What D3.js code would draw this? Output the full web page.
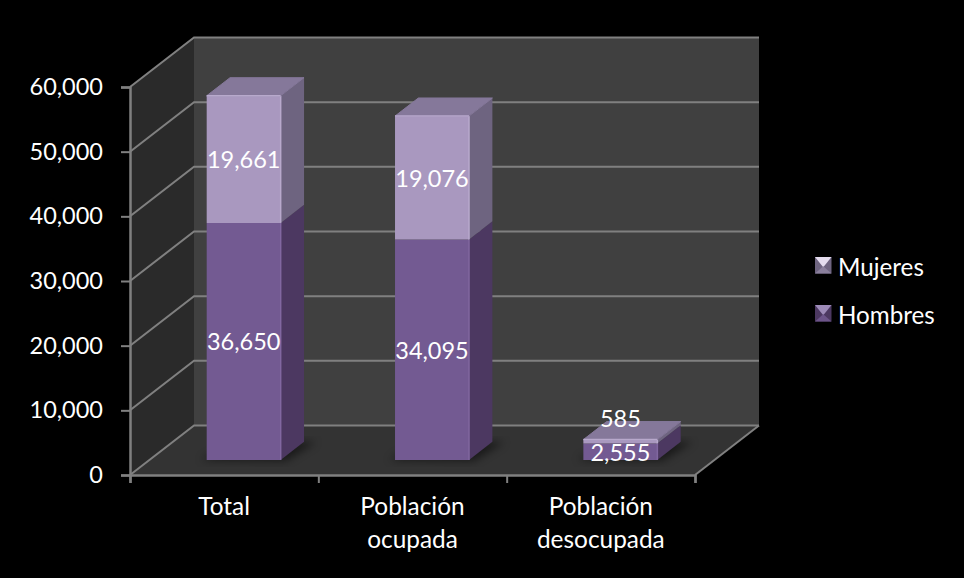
<!DOCTYPE html>
<html>
<head>
<meta charset="utf-8">
<script src="https://d3js.org/d3.v7.min.js"></script>
<style>
  html, body { margin: 0; padding: 0; background: #000; overflow: hidden; }
  text { font-family: Lato, "Open Sans", sans-serif; fill: #fff; }
</style>
</head>
<body>
<div id="chart"></div>
<script>
// values
var categories = ["Total", "Población ocupada", "Población desocupada"];
var hombres = [36650, 34095, 2555];
var mujeres = [19661, 19076, 585];
var yTicks = [0, 10000, 20000, 30000, 40000, 50000, 60000];
var legendNames = ["Mujeres", "Hombres"];

var width = 964, height = 578;
var fontSize = 23.5, labelSize = 24.4;
var gridColor = "#808080";

// 3d box: depth goes up and to the right
var depthX = 64, depthY = 49.5;
var barWidth = 74, barZ0 = 0.305, barZ1 = 0.67;

var svg = d3.select("#chart").append("svg")
  .attr("width", width)
  .attr("height", height);

var x = d3.scaleBand().domain(categories).range([130, 695]);
var y = d3.scaleLinear().domain([0, 60000]).range([475, 87]);
// only for the ticks between the categories
var xEdges = d3.scaleLinear().domain([0, categories.length]).range([130, 695]);

function px(xv, z) { return xv + z * depthX; }
function py(v, z) { return y(v) - z * depthY; }
function pt(xv, v, z) { return [px(xv, z), py(v, z)]; }
function poly(points) { return points.map(function(p) { return p.join(","); }).join(" "); }

var defs = svg.append("defs");
defs.append("filter").attr("id", "blur")
  .attr("x", "-30%").attr("y", "-30%").attr("width", "160%").attr("height", "160%")
  .append("feGaussianBlur").attr("stdDeviation", 4);

// walls and floor
var left = x.range()[0], right = x.range()[1];
svg.append("polygon").attr("fill", "#404040")
  .attr("points", poly([pt(left, 60000, 1), pt(right, 60000, 1), pt(right, 0, 1), pt(left, 0, 1)]));
svg.append("polygon").attr("fill", "#2a2a2a")
  .attr("points", poly([pt(left, 60000, 0), pt(left, 60000, 1), pt(left, 0, 1), pt(left, 0, 0)]));
svg.append("polygon").attr("fill", "#333333")
  .attr("points", poly([pt(left, 0, 0), pt(left, 0, 1), pt(right, 0, 1), pt(right, 0, 0)]));

// gridlines
svg.append("g").selectAll("polyline").data(yTicks).join("polyline")
  .attr("fill", "none")
  .attr("stroke", gridColor)
  .attr("stroke-width", 2)
  .attr("points", function(d) {
    return poly([pt(left, d, 0), pt(left, d, 1), pt(right, d, 1)]);
  });
svg.append("line")
  .attr("x1", px(right, 0)).attr("y1", py(0, 0))
  .attr("x2", px(right, 1)).attr("y2", py(0, 1))
  .attr("stroke", gridColor).attr("stroke-width", 2);

// axes
var yAxis = svg.append("g")
  .attr("transform", "translate(" + left + ",0)")
  .call(d3.axisLeft(y).tickValues(yTicks).tickFormat(d3.format(",")).tickSize(9).tickPadding(18));
var xAxis = svg.append("g")
  .attr("transform", "translate(0," + y(0) + ")")
  .call(d3.axisBottom(xEdges).ticks(categories.length).tickFormat("").tickSize(8));
[yAxis, xAxis].forEach(function(a) {
  a.selectAll("path").attr("stroke", gridColor).attr("stroke-width", 2.5);
  a.selectAll("line").attr("stroke", gridColor).attr("stroke-width", 2);
});
yAxis.selectAll("text").style("font-family", "Lato, sans-serif").attr("font-size", fontSize).attr("fill", "#fff");

// category labels, split on the space
svg.append("g").selectAll("text").data(categories).join("text")
  .attr("text-anchor", "middle")
  .attr("font-size", labelSize)
  .attr("x", function(d) { return x(d) + x.bandwidth() / 2; })
  .attr("y", 515)
  .selectAll("tspan").data(function(d) {
    return d.split(" ").map(function(w) { return { word: w, cat: d }; });
  }).join("tspan")
  .attr("x", function(d) { return x(d.cat) + x.bandwidth() / 2; })
  .attr("dy", function(d, i) { return i ? 33 : 0; })
  .text(function(d) { return d.word; });

// bars
var colors = {
  hombres: { front: "#735a92", side: "#4c3861", top: "#64507f", edge: "#8167a0" },
  mujeres: { front: "#a998bf", side: "#6e6480", top: "#85789a", edge: "#b8a9cc" }
};

function barLeft(c) {
  return x(c) + (x.bandwidth() - barWidth) / 2;
}

function drawBox(g, x0, v0, v1, col, showTop) {
  var x1 = x0 + barWidth;
  g.append("polygon").attr("fill", col.side)
    .attr("points", poly([pt(x1, v1, barZ0), pt(x1, v1, barZ1), pt(x1, v0, barZ1), pt(x1, v0, barZ0)]));
  g.append("polygon").attr("fill", col.front)
    .attr("points", poly([pt(x0, v1, barZ0), pt(x1, v1, barZ0), pt(x1, v0, barZ0), pt(x0, v0, barZ0)]));
  g.append("line").attr("stroke", col.edge).attr("stroke-width", 1.5)
    .attr("x1", px(x1, barZ0)).attr("y1", py(v1, barZ0))
    .attr("x2", px(x1, barZ0)).attr("y2", py(v0, barZ0));
  if (showTop) {
    g.append("polygon").attr("fill", col.top)
      .attr("stroke", col.top).attr("stroke-linejoin", "round")
      .attr("points", poly([pt(x0, v1, barZ0), pt(x0, v1, barZ1), pt(x1, v1, barZ1), pt(x1, v1, barZ0)]));
    g.append("line").attr("stroke", col.edge).attr("stroke-width", 1.5)
      .attr("x1", px(x0, barZ0)).attr("y1", py(v1, barZ0))
      .attr("x2", px(x1, barZ0)).attr("y2", py(v1, barZ0));
  }
}

var bars = svg.append("g");
categories.forEach(function(c, i) {
  var x0 = barLeft(c);
  // floor shadow
  bars.append("polygon").attr("fill", "#000").attr("opacity", 0.5)
    .attr("filter", "url(#blur)")
    .attr("points", poly([pt(x0 - 6, 0, barZ0), pt(x0 + barWidth + 6, 0, barZ0 - 0.02),
      pt(x0 + barWidth + 12, 0, barZ1), pt(x0 + 6, 0, barZ1)]));
  var g = bars.append("g");
  drawBox(g, x0, 0, hombres[i], colors.hombres, false);
  drawBox(g, x0, hombres[i], hombres[i] + mujeres[i], colors.mujeres, true);
});

// value labels, the thin segment gets its label above the bar
svg.append("g").selectAll("text").data(categories).join("text")
  .attr("text-anchor", "middle")
  .attr("dominant-baseline", "central")
  .attr("font-size", fontSize)
  .attr("x", function(d) { return px(barLeft(d) + barWidth / 2, barZ0); })
  .attr("y", function(d, i) { return py(hombres[i] / 2, barZ0); })
  .text(function(d, i) { return d3.format(",")(hombres[i]); });

svg.append("g").selectAll("text").data(categories).join("text")
  .attr("text-anchor", "middle")
  .attr("dominant-baseline", "central")
  .attr("font-size", fontSize)
  .attr("x", function(d) { return px(barLeft(d) + barWidth / 2, barZ0); })
  .attr("y", function(d, i) {
    var mid = py(hombres[i] + mujeres[i] / 2, barZ0);
    return mujeres[i] < 3000 ? mid - 23 : mid;
  })
  .text(function(d, i) { return d3.format(",")(mujeres[i]); });

// legend
var legendColors = [colors.mujeres, colors.hombres];
var legend = svg.append("g").selectAll("g").data(legendNames).join("g")
  .attr("transform", function(d, i) { return "translate(815," + (257 + i * 48) + ")"; });
var m = 16.5;
legend.append("rect").attr("width", m).attr("height", m)
  .attr("fill", function(d, i) { return legendColors[i].side; });
legend.append("polygon")
  .attr("points", poly([[0, 0], [m, 0], [m / 2, m / 2 + 2]]))
  .attr("fill", function(d, i) { return i ? "#9d8bb8" : "#e4dcee"; });
legend.append("polygon")
  .attr("points", poly([[0, m], [m, m], [m / 2, m / 2 + 1]]))
  .attr("fill", function(d, i) { return i ? "#6c5489" : "#8a7f9c"; });
legend.append("text")
  .attr("x", 23).attr("y", 9)
  .attr("dominant-baseline", "central")
  .attr("font-size", 24.2)
  .text(function(d) { return d; });
</script>
</body>
</html>
